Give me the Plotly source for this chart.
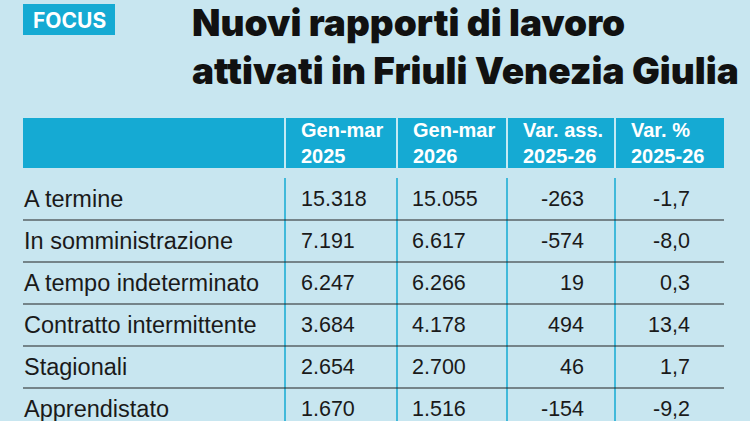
import plotly.graph_objects as go

ROWS = ["A termine", "In somministrazione", "A tempo indeterminato",
        "Contratto intermittente", "Stagionali", "Apprendistato"]
GEN_MAR_2025 = ["15.318", "7.191", "6.247", "3.684", "2.654", "1.670"]
GEN_MAR_2026 = ["15.055", "6.617", "6.266", "4.178", "2.700", "1.516"]
VAR_ASS = ["-263", "-574", "19", "494", "46", "-154"]
VAR_PCT = ["-1,7", "-8,0", "0,3", "13,4", "1,7", "-9,2"]
HEADERS = ["Gen-mar<br>2025", "Gen-mar<br>2026", "Var. ass.<br>2025-26", "Var. %<br>2025-26"]
TITLE = "Nuovi rapporti di lavoro<br>attivati in Friuli Venezia Giulia"

BG = "#c8e6f0"
CYAN = "#15aad3"
FONT = "Liberation Sans"

W, H = 750, 421
LEFT, RIGHT = 23, 724
DIVS = [285, 397, 507, 615]
HEAD_TOP, HEAD_BOT = 118, 168
ROW0, ROW_H = 199, 42

fig = go.Figure()
fig.add_trace(go.Scatter(x=[0], y=[0], mode="markers", marker=dict(opacity=0), hoverinfo="skip"))

shapes = []
ann = []

# FOCUS tag
shapes.append(dict(type="rect", x0=23, x1=115, y0=4, y1=35, fillcolor=CYAN, line_width=0, layer="below"))
ann.append(dict(x=69, y=20, text="<b>FOCUS</b>", font=dict(family="Inter", size=21, color="white"),
                xanchor="center", yanchor="middle"))
ann.append(dict(x=190, y=46, text=TITLE, align="left", xanchor="left", yanchor="middle",
                font=dict(family="Inter", size=37, color="#111", weight=900)))

# header band
shapes.append(dict(type="rect", x0=LEFT, x1=RIGHT, y0=HEAD_TOP, y1=HEAD_BOT, fillcolor=CYAN, line_width=0, layer="below"))
hx = [d + 14 for d in DIVS]
for x, h in zip(hx, HEADERS):
    ann.append(dict(x=x, y=(HEAD_TOP + HEAD_BOT) / 2, text=f"<b>{h}</b>", align="left",
                    xanchor="left", yanchor="middle", font=dict(family=FONT, size=20, color="white")))
for d in DIVS:
    shapes.append(dict(type="line", x0=d, x1=d, y0=HEAD_TOP, y1=HEAD_BOT, line=dict(color="white", width=1.5)))
    shapes.append(dict(type="line", x0=d, x1=d, y0=178, y1=H + 5, line=dict(color=CYAN, width=1.5)))

for i, name in enumerate(ROWS):
    y = ROW0 + i * ROW_H
    if i > 0:
        shapes.append(dict(type="line", x0=LEFT, x1=RIGHT, y0=y - ROW_H / 2, y1=y - ROW_H / 2,
                           line=dict(color="#222", width=1)))
    f = dict(family=FONT, size=21.5, color="#1a1a1a")
    ann.append(dict(x=22, y=y, text=name, xanchor="left", yanchor="middle",
                    font=dict(family=FONT, size=23.5, color="#1a1a1a")))
    ann.append(dict(x=299, y=y, text=GEN_MAR_2025[i], xanchor="left", yanchor="middle", font=f))
    ann.append(dict(x=410, y=y, text=GEN_MAR_2026[i], xanchor="left", yanchor="middle", font=f))
    ann.append(dict(x=586, y=y, text=VAR_ASS[i], xanchor="right", yanchor="middle", font=f))
    ann.append(dict(x=692, y=y, text=VAR_PCT[i], xanchor="right", yanchor="middle", font=f))

for a in ann:
    a.update(xref="x", yref="y", showarrow=False)

fig.update_layout(
    width=W, height=H, margin=dict(l=0, r=0, t=0, b=0),
    paper_bgcolor=BG, plot_bgcolor=BG, showlegend=False,
    xaxis=dict(range=[0, W], visible=False, fixedrange=True),
    yaxis=dict(range=[H, 0], visible=False, fixedrange=True),
    shapes=shapes, annotations=ann,
)

fig.write_html("out.html", config={"displayModeBar": False},
               post_script="document.body.style.margin='0';document.body.style.overflow='hidden';")
